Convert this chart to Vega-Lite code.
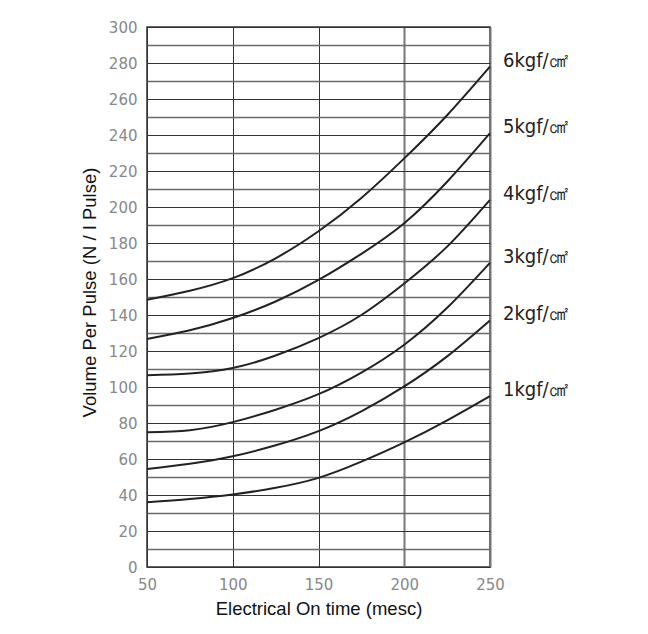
{
  "$schema": "https://vega.github.io/schema/vega-lite/v6.json",
  "width": 343,
  "height": 540,
  "autosize": {"type": "none"},
  "padding": {"left": 147, "top": 27, "right": 158, "bottom": 67},
  "background": "white",
  "config": {
    "view": {"stroke": "#333", "strokeWidth": 1.5},
    "axis": {"labelFont": "DejaVu Sans", "labelColor": "#888", "labelFontSize": 15, "titleFont": "Liberation Sans", "titleFontWeight": "normal", "titleColor": "#111", "titleFontSize": 18.5, "ticks": false, "domain": false, "labelFlush": false, "labelOverlap": false}
  },
  "data": {
    "values": [
      {"p": "6kgf/㎠", "t": 50, "v": 148.5}, {"p": "6kgf/㎠", "t": 75, "v": 153.5}, {"p": "6kgf/㎠", "t": 100, "v": 160.5}, {"p": "6kgf/㎠", "t": 125, "v": 171.5}, {"p": "6kgf/㎠", "t": 150, "v": 186.5}, {"p": "6kgf/㎠", "t": 175, "v": 205}, {"p": "6kgf/㎠", "t": 200, "v": 227}, {"p": "6kgf/㎠", "t": 225, "v": 251}, {"p": "6kgf/㎠", "t": 250, "v": 278},
      {"p": "5kgf/㎠", "t": 50, "v": 126.7}, {"p": "5kgf/㎠", "t": 75, "v": 131.5}, {"p": "5kgf/㎠", "t": 100, "v": 138.3}, {"p": "5kgf/㎠", "t": 125, "v": 147.5}, {"p": "5kgf/㎠", "t": 150, "v": 159.5}, {"p": "5kgf/㎠", "t": 175, "v": 174}, {"p": "5kgf/㎠", "t": 200, "v": 191}, {"p": "5kgf/㎠", "t": 225, "v": 214}, {"p": "5kgf/㎠", "t": 250, "v": 241},
      {"p": "4kgf/㎠", "t": 50, "v": 106.5}, {"p": "4kgf/㎠", "t": 75, "v": 107.5}, {"p": "4kgf/㎠", "t": 100, "v": 110.5}, {"p": "4kgf/㎠", "t": 125, "v": 117.5}, {"p": "4kgf/㎠", "t": 150, "v": 127.2}, {"p": "4kgf/㎠", "t": 175, "v": 140}, {"p": "4kgf/㎠", "t": 200, "v": 157.5}, {"p": "4kgf/㎠", "t": 225, "v": 178}, {"p": "4kgf/㎠", "t": 250, "v": 204},
      {"p": "3kgf/㎠", "t": 50, "v": 74.8}, {"p": "3kgf/㎠", "t": 75, "v": 76}, {"p": "3kgf/㎠", "t": 100, "v": 80.5}, {"p": "3kgf/㎠", "t": 125, "v": 87.4}, {"p": "3kgf/㎠", "t": 150, "v": 96}, {"p": "3kgf/㎠", "t": 175, "v": 108}, {"p": "3kgf/㎠", "t": 200, "v": 123.5}, {"p": "3kgf/㎠", "t": 225, "v": 144}, {"p": "3kgf/㎠", "t": 250, "v": 169},
      {"p": "2kgf/㎠", "t": 50, "v": 54.5}, {"p": "2kgf/㎠", "t": 75, "v": 57.4}, {"p": "2kgf/㎠", "t": 100, "v": 61.5}, {"p": "2kgf/㎠", "t": 125, "v": 67.6}, {"p": "2kgf/㎠", "t": 150, "v": 75.5}, {"p": "2kgf/㎠", "t": 175, "v": 86.5}, {"p": "2kgf/㎠", "t": 200, "v": 100.3}, {"p": "2kgf/㎠", "t": 225, "v": 117}, {"p": "2kgf/㎠", "t": 250, "v": 137},
      {"p": "1kgf/㎠", "t": 50, "v": 36}, {"p": "1kgf/㎠", "t": 75, "v": 37.8}, {"p": "1kgf/㎠", "t": 100, "v": 40.3}, {"p": "1kgf/㎠", "t": 125, "v": 44}, {"p": "1kgf/㎠", "t": 150, "v": 49.5}, {"p": "1kgf/㎠", "t": 175, "v": 58.5}, {"p": "1kgf/㎠", "t": 200, "v": 69.2}, {"p": "1kgf/㎠", "t": 225, "v": 81.5}, {"p": "1kgf/㎠", "t": 250, "v": 95}
    ]
  },
  "encoding": {
    "x": {"field": "t", "type": "quantitative", "scale": {"domain": [50, 250], "nice": false},
      "axis": {"title": "Electrical On time (mesc)", "values": [50, 100, 150, 200, 250], "labelPadding": 10, "titlePadding": 7,
        "gridColor": {"condition": {"test": "datum.value >= 200", "value": "#777"}, "value": "#333"},
        "gridWidth": {"condition": {"test": "datum.value >= 200", "value": 2}, "value": 1}}},
    "y": {"field": "v", "type": "quantitative", "scale": {"domain": [0, 300], "nice": false},
      "axis": {"title": "Volume Per Pulse (N / I Pulse)", "values": [0,10,20,30,40,50,60,70,80,90,100,110,120,130,140,150,160,170,180,190,200,210,220,230,240,250,260,270,280,290,300],
        "labelExpr": "datum.value % 20 === 0 ? datum.label : ''", "labelPadding": 10,
        "titleX": -58, "titleY": 265, "titleBaseline": "middle", "titleAngle": 270,
        "gridColor": {"condition": {"test": "datum.value % 20 === 0", "value": "#333"}, "value": "#6a6a6a"},
        "gridWidth": {"condition": {"test": "datum.value % 20 === 0", "value": 1}, "value": 1.6}}}
  },
  "layer": [
    {"mark": {"type": "line", "interpolate": "natural", "color": "#222", "strokeWidth": 2},
     "encoding": {"detail": {"field": "p"}}},
    {"transform": [{"filter": "datum.t === 250"}],
     "mark": {"type": "text", "align": "left", "baseline": "middle", "dx": 13, "dy": -6, "font": "Liberation Sans Narrow, DejaVu Sans Condensed, sans-serif", "fontSize": 20, "color": "#222"},
     "encoding": {"text": {"field": "p"}}}
  ]
}
